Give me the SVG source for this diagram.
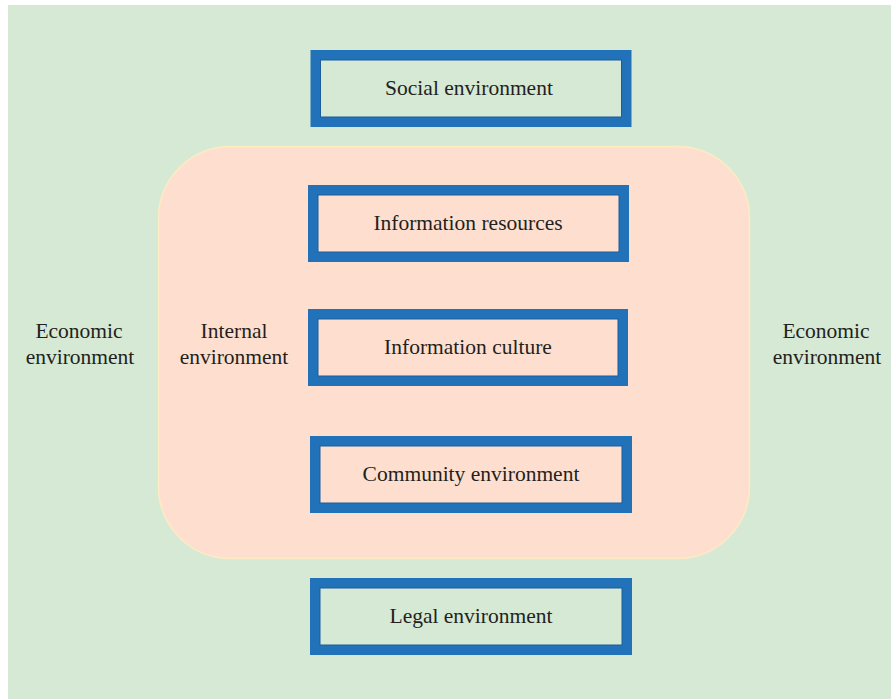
<svg xmlns="http://www.w3.org/2000/svg" width="891" height="699" viewBox="0 0 891 699">
<style>
.box{stroke:#2272ba;stroke-width:10}
.inner{fill:none;stroke:#1b5d9c;stroke-width:1}
.t{font-family:"Liberation Serif","DejaVu Serif",serif;font-size:21.5px;fill:#231f20;text-anchor:middle}
</style>
<rect x="0" y="0" width="891" height="699" fill="#ffffff"/>
<rect x="8" y="5" width="883" height="694" fill="#d6e9d4"/>
<g id="internal">
<rect x="158.5" y="146.5" width="591" height="412" rx="72" ry="72" fill="#fedfcf" stroke="#fcebc3" stroke-width="1.5"/>
<text class="t" x="234" y="338">Internal</text>
<text class="t" x="234" y="364">environment</text>
</g>
<g id="econ-left">
<text class="t" x="79" y="338">Economic</text>
<text class="t" x="80" y="364">environment</text>
</g>
<g id="econ-right">
<text class="t" x="826" y="338">Economic</text>
<text class="t" x="827" y="364">environment</text>
</g>
<g id="social">
<rect class="box" x="315.5" y="55" width="311" height="67" fill="#d6e9d4"/>
<rect class="inner" x="320.5" y="60" width="301" height="57"/>
<text class="t" x="469" y="95">Social environment</text>
</g>
<g id="resources">
<rect class="box" x="313" y="190" width="311" height="67" fill="#fedfcf"/>
<rect class="inner" x="318" y="195" width="301" height="57"/>
<text class="t" x="468" y="230">Information resources</text>
</g>
<g id="culture">
<rect class="box" x="313" y="314" width="310" height="67" fill="#fedfcf"/>
<rect class="inner" x="318" y="319" width="300" height="57"/>
<text class="t" x="468" y="354">Information culture</text>
</g>
<g id="community">
<rect class="box" x="315" y="441" width="312" height="67" fill="#fedfcf"/>
<rect class="inner" x="320" y="446" width="302" height="57"/>
<text class="t" x="471" y="481">Community environment</text>
</g>
<g id="legal">
<rect class="box" x="315" y="583" width="312" height="67" fill="#d6e9d4"/>
<rect class="inner" x="320" y="588" width="302" height="57"/>
<text class="t" x="471" y="623">Legal environment</text>
</g>
<g id="connectors"></g>
</svg>
